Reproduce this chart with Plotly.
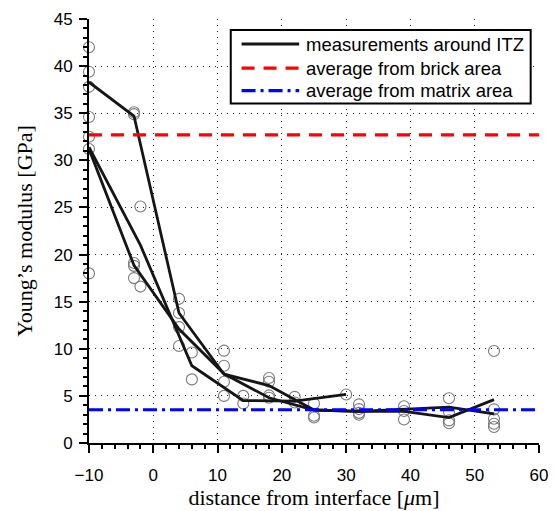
import plotly.graph_objects as go

# ---------------- data ----------------
# individual measurements (circles)
pt_x = ([-10]*7 + [-3]*5 + [-2]*2 + [4]*4 + [6]*2 + [11]*4 + [14]*2 + [18]*4 +
        [22]*2 + [25]*3 + [30]*1 + [32]*4 + [39]*3 + [46]*4 + [53]*5)
pt_y = [42.0, 39.4, 37.8, 34.6, 32.5, 31.2, 18.0,
        35.1, 34.9, 19.1, 18.8, 17.5,
        25.1, 16.6,
        15.3, 13.8, 12.3, 10.3,
        9.6, 6.75,
        9.8, 8.2, 6.5, 5.0,
        5.0, 4.2,
        6.9, 6.5, 5.05, 4.8,
        4.9, 4.3,
        4.2, 2.9, 2.7,
        5.15,
        4.1, 3.6, 3.2, 3.0,
        3.9, 3.4, 2.5,
        4.75, 3.3, 2.4, 2.1,
        9.76, 3.57, 2.58, 2.05, 1.7]

# measurement profiles around ITZ (lines)
line1_x = [-10, -3, 4, 11, 18, 25, 32, 39, 46, 53]
line1_y = [38.3, 34.7, 13.8, 7.3, 6.1, 3.5, 3.35, 3.35, 2.7, 4.6]
line2_x = [-10, -3, 4, 11, 18, 25, 32, 39, 46, 53]
line2_y = [31.2, 18.85, 12.1, 7.35, 4.8, 3.5, 3.35, 3.6, 3.8, 3.1]
line3_x = [-10, -2, 6, 14, 22, 30]
line3_y = [31.4, 21.0, 8.2, 4.5, 4.45, 5.15]

brick_avg = 32.7
matrix_avg = 3.53
x_range = [-10, 60]
y_range = [0, 45]

legend_labels = ["measurements around ITZ", "average from brick area", "average from matrix area"]

# ---------------- styles ----------------
ITZ_COLOR = "#151515"
BRICK_COLOR = "#ff0000"
MATRIX_COLOR = "#0000ff"
BRICK_DASH = "13px,9px"
MATRIX_DASH = "14px,5px,3px,5px"

# ---------------- figure ----------------
fig = go.Figure()

fig.add_trace(go.Scatter(x=pt_x, y=pt_y, mode="markers", cliponaxis=False,
                         marker=dict(symbol="circle-open", size=11,
                                     color="#7a7a7a", line=dict(width=1.1)),
                         showlegend=False, hoverinfo="skip"))

for lx, ly in [(line1_x, line1_y), (line2_x, line2_y), (line3_x, line3_y)]:
    fig.add_trace(go.Scatter(x=lx, y=ly, mode="lines", cliponaxis=False,
                             line=dict(color=ITZ_COLOR, width=2.8),
                             name=legend_labels[0], showlegend=False))

fig.add_trace(go.Scatter(x=x_range, y=[brick_avg, brick_avg], mode="lines",
                         line=dict(color=BRICK_COLOR, width=3.2, dash=BRICK_DASH),
                         name=legend_labels[1], showlegend=False))
fig.add_trace(go.Scatter(x=x_range, y=[matrix_avg, matrix_avg], mode="lines",
                         line=dict(color=MATRIX_COLOR, width=3.2, dash=MATRIX_DASH),
                         name=legend_labels[2], showlegend=False))

# ---------------- legend box (paper coordinates) ----------------
L_X0, L_X1, L_Y0, L_Y1 = 0.315, 0.9815, 0.801, 0.974
S_X0, S_X1, T_X = 0.339, 0.467, 0.478
ROW_Y = [0.941, 0.884, 0.831]
fig.add_shape(type="rect", xref="paper", yref="paper",
              x0=L_X0, x1=L_X1, y0=L_Y0, y1=L_Y1,
              line=dict(color="black", width=2), fillcolor="white", layer="above")
for ry, col, dsh, lab in zip(ROW_Y, [ITZ_COLOR, BRICK_COLOR, MATRIX_COLOR],
                             ["solid", BRICK_DASH, MATRIX_DASH], legend_labels):
    fig.add_shape(type="line", xref="paper", yref="paper",
                  x0=S_X0, x1=S_X1, y0=ry, y1=ry, layer="above",
                  line=dict(color=col, width=3.0 if dsh == "solid" else 3.2, dash=dsh))
    fig.add_annotation(xref="paper", yref="paper", x=T_X, y=ry,
                       xanchor="left", yanchor="middle", showarrow=False,
                       text=lab,
                       font=dict(family="Liberation Sans, Arial, sans-serif",
                                 size=18.5, color="black"))

tickfont = dict(family="Liberation Sans, Arial, sans-serif", size=17, color="black")
titlefont = dict(family="Liberation Serif, Times New Roman, serif", size=22, color="black")

fig.update_layout(
    width=557, height=511,
    margin=dict(l=89, r=18, t=19, b=68),
    paper_bgcolor="white", plot_bgcolor="white",
    showlegend=False,
    xaxis=dict(range=x_range, dtick=10, tick0=0, automargin=False,
               showline=True, linecolor="black", linewidth=2,
               ticks="outside", ticklen=8, tickwidth=2, tickcolor="black",
               ticklabelstandoff=8,
               minor=dict(dtick=2, ticks="outside", ticklen=4, tickwidth=2,
                          tickcolor="black", showgrid=False),
               showgrid=True, gridcolor="#222", gridwidth=1, griddash="1px,5px",
               zeroline=False, tickfont=tickfont,
               title=dict(text="distance from interface [<i>μ</i>m]", font=titlefont, standoff=4)),
    yaxis=dict(range=y_range, dtick=5, tick0=0, automargin=False,
               showline=True, linecolor="black", linewidth=2,
               ticks="outside", ticklen=8, tickwidth=2, tickcolor="black",
               ticklabelstandoff=3,
               minor=dict(dtick=1, ticks="outside", ticklen=4, tickwidth=2,
                          tickcolor="black", showgrid=False),
               showgrid=True, gridcolor="#222", gridwidth=1, griddash="1px,5px",
               zeroline=False, tickfont=tickfont,
               title=dict(text="Young’s modulus [GPa]", font=titlefont, standoff=15)),
)

fig.write_html("out.html", config={"displayModeBar": False},
               post_script="document.body.style.margin='0';")
